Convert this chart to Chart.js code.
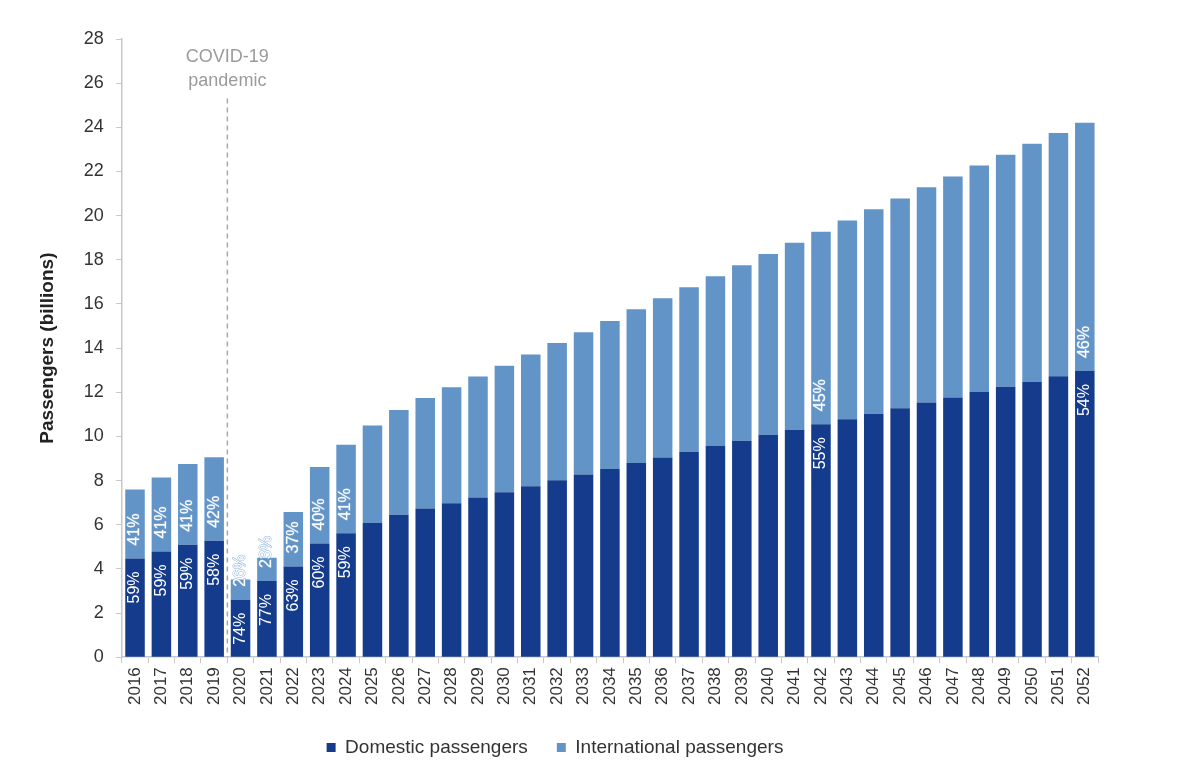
<!DOCTYPE html>
<html>
<head>
<meta charset="utf-8">
<title>Passengers</title>
<script src="https://cdn.jsdelivr.net/npm/chart.js@4.4.1/dist/chart.umd.min.js"></script>
<style>
	body { margin: 0; background: #fff; }
	#pchart { display: block; }
</style>
</head>
<body>
<canvas id="pchart" width="1194" height="780"></canvas>
<script>
//==========================data=========================
const years = ['2016', '2017', '2018', '2019', '2020', '2021', '2022', '2023', '2024', '2025',
	'2026', '2027', '2028', '2029', '2030', '2031', '2032', '2033', '2034', '2035',
	'2036', '2037', '2038', '2039', '2040', '2041', '2042', '2043', '2044', '2045',
	'2046', '2047', '2048', '2049', '2050', '2051', '2052'];

// billions of passengers
const domestic = [4.47, 4.79, 5.09, 5.27, 2.6, 3.45, 4.11, 5.15, 5.61, 6.08,
	6.45, 6.73, 6.97, 7.23, 7.47, 7.74, 8.01, 8.27, 8.52, 8.79,
	9.05, 9.3, 9.56, 9.8, 10.06, 10.3, 10.55, 10.78, 11.03, 11.28,
	11.53, 11.76, 12.01, 12.25, 12.48, 12.72, 12.96];
const international = [3.12, 3.35, 3.66, 3.79, 0.92, 1.05, 2.47, 3.46, 4.01, 4.41,
	4.75, 5.01, 5.26, 5.48, 5.73, 5.97, 6.22, 6.45, 6.71, 6.97,
	7.21, 7.46, 7.69, 7.95, 8.2, 8.47, 8.72, 9.0, 9.26, 9.5,
	9.76, 10.01, 10.26, 10.51, 10.78, 11.02, 11.25];

// share labels written on the bars (null = no label)
const domesticShare = ['59%', '59%', '59%', '58%', '74%', '77%', '63%', '60%', '59%', null,
	null, null, null, null, null, null, null, null, null, null,
	null, null, null, null, null, null, '55%', null, null, null,
	null, null, null, null, null, null, '54%'];
const internationalShare = ['41%', '41%', '41%', '42%', '26%', '23%', '37%', '40%', '41%', null,
	null, null, null, null, null, null, null, null, null, null,
	null, null, null, null, null, null, '45%', null, null, null,
	null, null, null, null, null, null, '46%'];

const yTicks = [0, 2, 4, 6, 8, 10, 12, 14, 16, 18, 20, 22, 24, 26, 28];
const covidYear = '2020';
const covidText = ['COVID-19', 'pandemic'];
//============================================================================

const darkBlue = '#153c8c';
const lightBlue = '#6294c8';
const font = "'Liberation Sans', Arial, sans-serif";

//==============share labels inside the bars===============
const shareLabels = {
	id: 'shareLabels',
	afterDatasetsDraw(chart) {
		const c = chart.ctx;
		const lists = [domesticShare, internationalShare];
		c.save();
		c.font = '16px ' + font;
		c.textBaseline = 'middle';
		lists.forEach((list, di) => {
			const meta = chart.getDatasetMeta(di);
			meta.data.forEach((bar, i) => {
				if (!list[i]) return;
				c.save();
				if (di === 0) {
					// from the top of the dark segment, going down
					c.translate(bar.x, bar.y + 13);
					c.rotate(-Math.PI / 2);
					c.textAlign = 'right';
				} else {
					// from the bottom of the light segment, going up
					c.translate(bar.x, bar.base - 13);
					c.rotate(-Math.PI / 2);
					c.textAlign = 'left';
					c.strokeStyle = '#8fb3da';
					c.lineWidth = 1;
					c.strokeText(list[i], 0, 0);
				}
				c.fillStyle = '#ffffff';
				c.fillText(list[i], 0, 0);
				c.restore();
			});
		});
		c.restore();
	}
};

//==============dashed covid marker===============
const covidMarker = {
	id: 'covidMarker',
	afterDatasetsDraw(chart) {
		const c = chart.ctx;
		const xs = chart.scales.x;
		const ys = chart.scales.y;
		const idx = years.indexOf(covidYear);
		const xp = (xs.getPixelForValue(idx - 1) + xs.getPixelForValue(idx)) / 2;
		c.save();
		c.strokeStyle = '#a8a8a8';
		c.lineWidth = 1.5;
		c.setLineDash([5, 4]);
		c.beginPath();
		c.moveTo(xp, ys.getPixelForValue(25.3));
		c.lineTo(xp, ys.getPixelForValue(0));
		c.stroke();
		c.setLineDash([]);
		c.fillStyle = '#9b9b9b';
		c.font = '18px ' + font;
		c.textAlign = 'center';
		c.textBaseline = 'middle';
		c.fillText(covidText[0], xp, ys.getPixelForValue(27.2));
		c.fillText(covidText[1], xp, ys.getPixelForValue(26.1));
		c.restore();
	}
};

//==============legend sits a bit left of the plot centre===============
const legendShift = {
	id: 'legendShift',
	afterLayout(chart) {
		chart.legend.left -= 12;
		chart.legend.right -= 12;
	}
};

const ctx = document.getElementById('pchart').getContext('2d');
const myChart = new Chart(ctx, {
	type: 'bar',
	data: {
		labels: years,
		datasets: [
			{
				label: 'Domestic passengers',
				data: domestic,
				backgroundColor: darkBlue,
				borderWidth: 0,
			},
			{
				label: 'International passengers',
				data: international,
				backgroundColor: lightBlue,
				borderWidth: 0,
			}
		]
	},
	options: {
		responsive: false,
		animation: false,
		barPercentage: 0.74,
		categoryPercentage: 1,
		layout: {
			padding: { top: 39, left: 36, right: 96, bottom: 13 }
		},
		plugins: {
			tooltip: { enabled: false },
			legend: {
				position: 'bottom',
				maxHeight: 71,
				labels: {
					boxWidth: 9,
					boxHeight: 9,
					padding: 29,
					color: '#333',
					font: { family: font, size: 19 }
				}
			}
		},
		scales: {
			x: {
				stacked: true,
				grid: { display: true, drawOnChartArea: false, color: '#c8c8c8', tickLength: 6, offset: true },
				border: { color: '#c8c8c8', width: 1.5 },
				ticks: {
					autoSkip: false,
					minRotation: 90,
					maxRotation: 90,
					padding: 4,
					color: '#333',
					font: { family: font, size: 17 }
				}
			},
			y: {
				stacked: true,
				min: 0,
				max: 28,
				afterBuildTicks: axis => { axis.ticks = yTicks.map(v => ({ value: v })); },
				grid: { display: true, drawOnChartArea: false, color: '#c8c8c8', tickLength: 6 },
				border: { color: '#c8c8c8', width: 1.5 },
				title: {
					display: true,
					text: 'Passengers (billions)',
					color: '#222',
					font: { family: font, size: 19, weight: 'bold' },
					padding: { top: 0, bottom: 13 }
				},
				ticks: {
					padding: 12,
					color: '#333',
					font: { family: font, size: 18 }
				}
			}
		}
	},
	plugins: [shareLabels, covidMarker, legendShift]
});
</script>
</body>
</html>
